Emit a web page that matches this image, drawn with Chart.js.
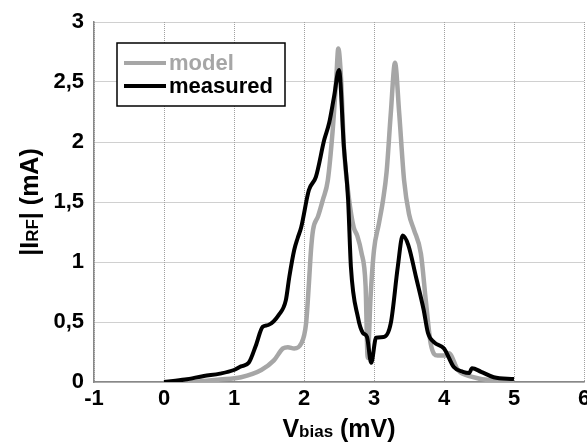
<!DOCTYPE html>
<html lang="en">
<head>
    <meta charset="UTF-8">
    <title>IRF vs Vbias</title>
    <script src="https://cdn.jsdelivr.net/npm/chart.js"></script>
    <style>
        html, body { margin: 0; padding: 0; background: #fff; }
        canvas { display: block; }
    </style>
</head>
<body>
    <canvas id="ivChart" width="587" height="444"></canvas>

    <script>
        // values (V in mV, I in mA)
        const modelV = [0, 0.5, 0.8, 1.1, 1.39, 1.57, 1.7, 1.77, 1.86, 1.96, 2.03, 2.07, 2.1, 2.13, 2.2, 2.27,
            2.34, 2.41, 2.46, 2.49, 2.53, 2.57, 2.64, 2.71, 2.76, 2.82, 2.88, 2.91, 2.95, 3.0, 3.07, 3.13,
            3.18, 3.24, 3.3, 3.36, 3.43, 3.5, 3.57, 3.67, 3.74, 3.81, 3.91, 4.03, 4.07, 4.2, 4.39, 4.71, 5.0];
        const modelI = [0, 0.005, 0.02, 0.04, 0.1, 0.18, 0.28, 0.29, 0.28, 0.32, 0.49, 0.82, 1.1, 1.27, 1.38, 1.52,
            1.68, 2.1, 2.52, 2.78, 2.52, 1.96, 1.54, 1.29, 1.22, 1.08, 0.8, 0.2, 0.7, 1.1, 1.32, 1.52,
            1.75, 2.24, 2.66, 2.24, 1.68, 1.4, 1.27, 1.07, 0.68, 0.32, 0.22, 0.22, 0.24, 0.1, 0.045, 0.015, 0.015];

        const measV = [0, 0.3, 0.57, 0.8, 1.0, 1.1, 1.21, 1.31, 1.41, 1.49, 1.64, 1.74, 1.79, 1.86, 1.91, 1.96,
            2.07, 2.17, 2.29, 2.36, 2.43, 2.5, 2.57, 2.63, 2.67, 2.77, 2.84, 2.9, 2.96, 3.03, 3.14, 3.24,
            3.34, 3.41, 3.49, 3.6, 3.71, 3.77, 3.86, 4.0, 4.14, 4.27, 4.36, 4.4, 4.53, 4.71, 5.0];
        const measI = [0, 0.02, 0.05, 0.07, 0.1, 0.13, 0.16, 0.3, 0.46, 0.475, 0.56, 0.68, 0.875, 1.1, 1.2, 1.29,
            1.6, 1.71, 2.02, 2.16, 2.38, 2.6, 1.96, 1.52, 0.96, 0.54, 0.41, 0.375, 0.16, 0.37, 0.375, 0.49,
            0.96, 1.22, 1.14, 0.875, 0.6, 0.41, 0.33, 0.28, 0.125, 0.085, 0.075, 0.115, 0.085, 0.04, 0.025];

        const seriesNames = ['model', 'measured'];
        const FONT = '"Liberation Sans", Arial, sans-serif';
        const GREY = '#a6a6a6';

        const toPoints = (xs, ys) => xs.map((x, i) => ({ x: x, y: ys[i] }));

        // axis titles with small-font "subscripts" + boxed legend
        const decorations = {
            id: 'decorations',
            afterDraw(chart) {
                const ctx = chart.ctx;
                const area = chart.chartArea;
                ctx.save();
                ctx.fillStyle = '#000';
                ctx.textBaseline = 'alphabetic';

                function runs(parts) {
                    let w = 0;
                    parts.forEach(p => { ctx.font = 'bold ' + p[1] + 'px ' + FONT; w += ctx.measureText(p[0]).width; });
                    return w;
                }
                function drawRuns(parts, x, y) {
                    parts.forEach(p => {
                        ctx.font = 'bold ' + p[1] + 'px ' + FONT;
                        ctx.fillText(p[0], x, y);
                        x += ctx.measureText(p[0]).width;
                    });
                }

                const xTitle = [['V', 25], ['bias', 17], [' (mV)', 25]];
                const xw = runs(xTitle);
                drawRuns(xTitle, (area.left + area.right) / 2 - xw / 2, 437);

                const yTitle = [['|I', 25], ['RF', 17], ['| (mA)', 25]];
                const yw = runs(yTitle);
                ctx.save();
                ctx.translate(38, (area.top + area.bottom) / 2);
                ctx.rotate(-Math.PI / 2);
                drawRuns(yTitle, -yw / 2, 0);
                ctx.restore();

                // legend
                ctx.fillStyle = '#fff';
                ctx.fillRect(117, 43, 168, 63);
                ctx.strokeStyle = '#000';
                ctx.lineWidth = 1.5;
                ctx.strokeRect(117, 43, 168, 63);
                const rows = [[seriesNames[0], GREY, 63], [seriesNames[1], '#000', 86]];
                rows.forEach(r => {
                    ctx.strokeStyle = r[1];
                    ctx.lineWidth = 4;
                    ctx.beginPath();
                    ctx.moveTo(124, r[2]);
                    ctx.lineTo(166, r[2]);
                    ctx.stroke();
                    ctx.fillStyle = r[1];
                    ctx.font = 'bold 22px ' + FONT;
                    ctx.textBaseline = 'middle';
                    ctx.fillText(r[0], 169, r[2] + 1);
                });
                ctx.restore();
            }
        };

        new Chart(document.getElementById('ivChart'), {
            type: 'scatter',
            data: {
                datasets: [{
                    label: seriesNames[0],
                    data: toPoints(modelV, modelI),
                    showLine: true,
                    borderColor: GREY,
                    borderWidth: 4.5,
                    pointRadius: 0,
                    cubicInterpolationMode: 'monotone',
                    order: 1
                }, {
                    label: seriesNames[1],
                    data: toPoints(measV, measI),
                    showLine: true,
                    borderColor: '#000',
                    borderWidth: 4,
                    pointRadius: 0,
                    cubicInterpolationMode: 'monotone',
                    order: 0
                }]
            },
            options: {
                responsive: false,
                animation: false,
                devicePixelRatio: 1,
                layout: { padding: { top: 22, right: 3, left: 0, bottom: 0 } },
                plugins: {
                    legend: { display: false },
                    tooltip: { enabled: false }
                },
                scales: {
                    x: {
                        type: 'linear',
                        min: -1,
                        max: 6,
                        ticks: {
                            stepSize: 1,
                            color: '#000',
                            padding: 4,
                            maxRotation: 0,
                            font: { family: FONT, size: 22, weight: 'bold' }
                        },
                        grid: { color: '#a0a0a0', lineWidth: 1, drawTicks: false },
                        border: { color: '#888', width: 1.5, dash: [1, 1] },
                        afterFit(scale) {
                            scale.height = 62;
                            scale.paddingLeft = 0;
                            scale.paddingRight = 0;
                        }
                    },
                    y: {
                        min: 0,
                        max: 3,
                        ticks: {
                            stepSize: 0.5,
                            color: '#000',
                            padding: 10,
                            font: { family: FONT, size: 22, weight: 'bold' },
                            callback: v => String(v).replace('.', ',')
                        },
                        grid: { color: '#a0a0a0', lineWidth: 1, drawTicks: false },
                        border: { color: '#888', width: 1.5, dash: [1, 1] },
                        afterFit(scale) {
                            scale.width = 94;
                            scale.paddingTop = 0;
                            scale.paddingBottom = 0;
                        }
                    }
                }
            },
            plugins: [decorations]
        });
    </script>
</body>
</html>
